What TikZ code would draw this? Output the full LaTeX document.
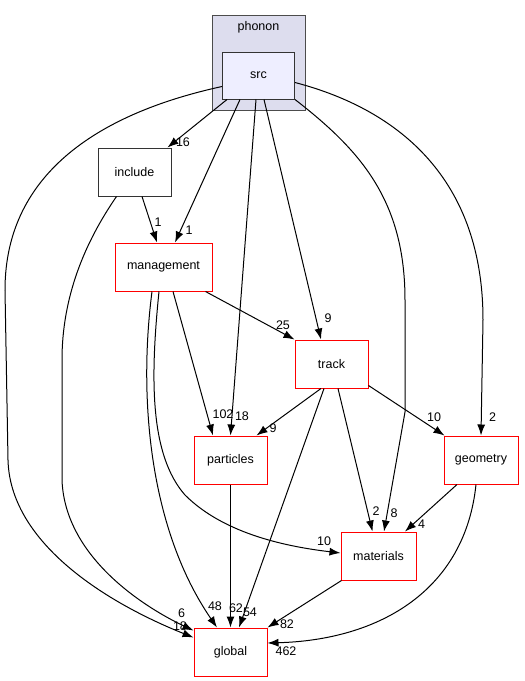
\documentclass[tikz,border=0pt]{standalone}
\usepackage{fontspec}
\setmainfont{Liberation Sans}
\usetikzlibrary{arrows.meta}
\definecolor{clusterfill}{HTML}{DDDDEE}
\definecolor{srcfill}{HTML}{EEEEFF}
\definecolor{dirred}{HTML}{FF0000}
\tikzset{
  dir/.style={draw=dirred, line width=1pt, fill=white, minimum width=73pt, minimum height=48pt, inner sep=0pt, font=\fontsize{12.5}{15}\selectfont},
  dirblack/.style={dir, draw=black!80},
  dep/.style={line width=1pt, -{Latex[length=11pt,width=8pt]}},
  cnt/.style={inner sep=0pt, font=\fontsize{12.5}{15}\selectfont},
}

\begin{document}
\begin{tikzpicture}[x=1pt, y=-1pt]
				\useasboundingbox (0,0) rectangle (525,681);
				% Cluster and directories:
				\node[draw=black!70, line width=1pt, fill=clusterfill, minimum width=93pt, minimum height=95pt, inner sep=0pt](phonon) at (258.5,62.5){};
				\node[cnt](phononlabel) at (258.5,27){phonon};
				\node[dirblack, fill=srcfill, minimum width=72pt, minimum height=47pt](src) at (258.5,75.5){src};
				\node[dirblack](include) at (134.5,172){include};
				\node[dir, minimum width=97pt](management) at (163.5,267){management};
				\node[dir](track) at (331.5,364){track};
				\node[dir](particles) at (230.5,460){particles};
				\node[dir, minimum width=74pt](geometry) at (481,460){geometry};
				\node[dir, minimum width=75pt](materials) at (378.5,556){materials};
				\node[dir](global) at (230.5,652){global};
				% Paths from src:
				\draw[dep] ([xshift=5pt]src.south west) -- ([xshift=-4pt]include.north east);
				\draw[dep] ([xshift=-18.5pt]src.south) -- ([xshift=11.5pt]management.north);
				\draw[dep] ([xshift=-2.5pt]src.south) -- (particles.north);
				\draw[dep] ([xshift=5.5pt]src.south) -- ([xshift=-10.5pt]track.north);
				\draw[dep] (src.south east) .. controls (360,150) and (405,200) .. (405,300) -- (405,412) -- ([xshift=5.5pt]materials.north);
				\draw[dep] ([yshift=-7pt]src.east) .. controls (400,110) and (483,180) .. (483,320) -- (geometry.north);
				\draw[dep] ([yshift=13pt]src.south west) .. controls (105,112) and (5,170) .. (5,290) -- (8,460) .. controls (10,540) and (100,600) .. ([yshift=-10pt]global.north west);
				% Paths from include:
				\draw[dep] ([xshift=7.5pt]include.south) -- ([xshift=-6.5pt]management.north);
				\draw[dep] ([xshift=19pt]include.south west) .. controls (90,235) and (62,290) .. (62,360) -- (62,480) .. controls (65,560) and (150,610) .. ([yshift=-3pt]global.north west);
				% Paths from management:
				\draw[dep] ([xshift=-7pt]management.south east) -- (track.north west);
				\draw[dep] ([xshift=9.5pt]management.south) -- ([xshift=-17.5pt]particles.north);
				\draw[dep] ([xshift=-11.5pt]management.south) .. controls (138,400) and (150,530) .. ([xshift=-13.5pt]global.north);
				\draw[dep] ([xshift=-4.5pt]management.south) .. controls (150,380) and (150,455) .. (185,495) .. controls (225,535) and (290,547) .. ([yshift=3pt]materials.west);
				% Paths from track:
				\draw[dep] ([xshift=-10.5pt]track.south) -- ([xshift=26pt]particles.north);
				\draw[dep] ([xshift=-7.5pt]track.south) -- ([xshift=8.5pt]global.north);
				\draw[dep] ([xshift=6.5pt]track.south) -- ([xshift=-6pt]materials.north);
				\draw[dep] ([yshift=3pt]track.south east) -- ([xshift=1pt]geometry.north west);
				% Paths into global and materials:
				\draw[dep] (particles.south) -- (global.north);
				\draw[dep] ([xshift=-24pt]geometry.south) -- ([xshift=26.5pt]materials.north);
				\draw[dep] ([xshift=-5pt]geometry.south) .. controls (465,590) and (380,640) .. ([yshift=9pt]global.east);
				\draw[dep] ([xshift=1pt]materials.south west) -- (global.north east);
				% Counts:
				\node[cnt](c16) at (183,142){16};
				\node[cnt](c1a) at (189,230){1};
				\node[cnt](c1b) at (158,222){1};
				\node[cnt](c18a) at (242,416){18};
				\node[cnt](c102) at (223,414){102};
				\node[cnt](c9a) at (328,318){9};
				\node[cnt](c25) at (283,325){25};
				\node[cnt](c8) at (394,513){8};
				\node[cnt](c2a) at (492.5,417){2};
				\node[cnt](c9b) at (273,428){9};
				\node[cnt](c10a) at (434,417){10};
				\node[cnt](c2b) at (376,511){2};
				\node[cnt](c4) at (421.5,524){4};
				\node[cnt](c10b) at (324,541){10};
				\node[cnt](c6) at (181.5,613){6};
				\node[cnt](c18b) at (180,626){18};
				\node[cnt](c48) at (215,606){48};
				\node[cnt](c62) at (236,608){62};
				\node[cnt](c54) at (250,612){54};
				\node[cnt](c82) at (287,624){82};
				\node[cnt](c462) at (286,651){462};
			\end{tikzpicture}
\end{document}
